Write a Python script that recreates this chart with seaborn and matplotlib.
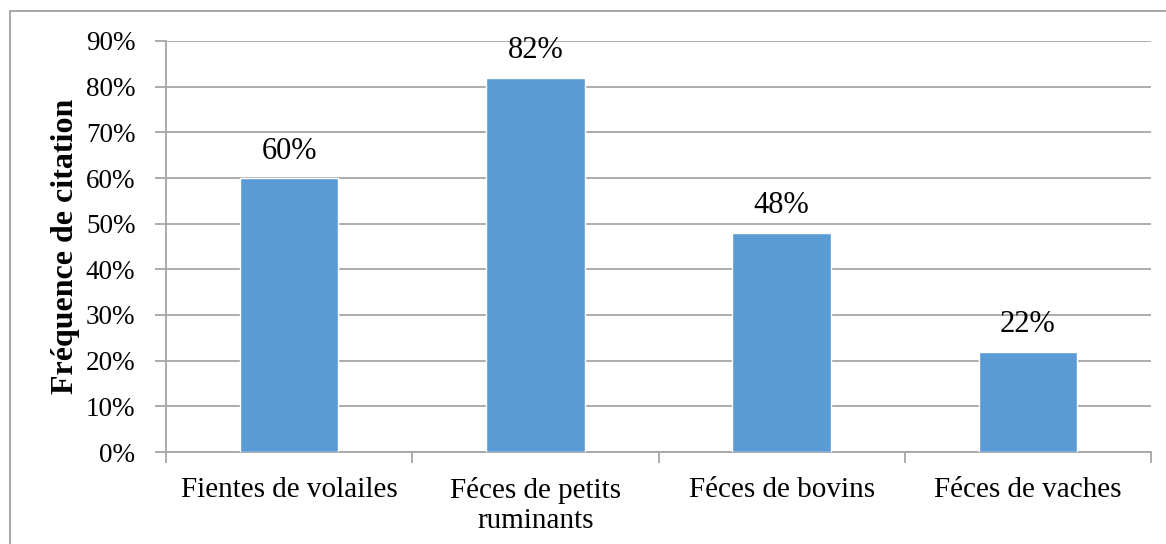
import matplotlib
matplotlib.use("Agg")
import matplotlib.pyplot as plt
import seaborn as sns
import pandas as pd
from matplotlib.ticker import PercentFormatter, FixedLocator
from matplotlib.patches import Rectangle

categories = ["Fientes de volailes", "Féces de petits\nruminants", "Féces de bovins", "Féces de vaches"]
values = [0.60, 0.82, 0.48, 0.22]
y_ticks = [0.0, 0.1, 0.2, 0.3, 0.4, 0.5, 0.6, 0.7, 0.8, 0.9]
y_label = "Fréquence de citation"

sns.set_theme(style="white")
plt.rcParams['font.family'] = ['Liberation Serif', 'DejaVu Serif']
plt.rcParams['text.color'] = 'black'

W, H = 1166, 544
fig = plt.figure(figsize=(W / 100, H / 100), dpi=100)
fig.patch.set_facecolor("white")
ax = fig.add_axes([166 / W, (H - 452) / H, (1151 - 166) / W, (452 - 41) / H])

df = pd.DataFrame({"cat": categories, "val": values})
sns.barplot(data=df, x="cat", y="val", color="#5B9BD5", width=0.4, saturation=1, ax=ax, zorder=3)

grid_c = "#A6A6A6"
ax.set_ylim(0, 0.9)
ax.set_xlim(-0.5, len(categories) - 0.5)
ax.yaxis.set_major_locator(FixedLocator(y_ticks))
ax.yaxis.set_major_formatter(PercentFormatter(1, decimals=0))
ax.yaxis.grid(True, color=grid_c, linewidth=1.3, zorder=0)
ax.set_axisbelow(True)

ax.xaxis.set_minor_locator(FixedLocator([i - 0.5 for i in range(len(categories) + 1)]))
ax.tick_params(axis="x", which="major", length=0, pad=18, labelsize=21, labelcolor="black")
ax.tick_params(axis="x", which="minor", length=8, width=1.3, color=grid_c, bottom=True)
ax.tick_params(axis="y", which="major", length=8, width=1.3, color=grid_c, left=True, pad=14,
               labelsize=19.5, labelcolor="black")

for s in ["top", "right"]:
    ax.spines[s].set_visible(False)
for s in ["left", "bottom"]:
    ax.spines[s].set_color(grid_c)
    ax.spines[s].set_linewidth(1.3)

ax.set_xlabel("")
ax.set_ylabel(y_label, fontsize=23, fontweight="bold", color="black")
ax.yaxis.set_label_coords((80 - 166) / 985, 0.5)

ax.bar_label(ax.containers[0], labels=[f"{v:.0%}" for v in values], padding=9, fontsize=22, color="black")

fig.patches.append(Rectangle((10 / W, -0.1), 2, (H - 11) / H + 0.1, transform=fig.transFigure,
                             fill=False, edgecolor="#A0A0A0", linewidth=1.3))

fig.savefig("out.png", dpi=100, facecolor="white")
